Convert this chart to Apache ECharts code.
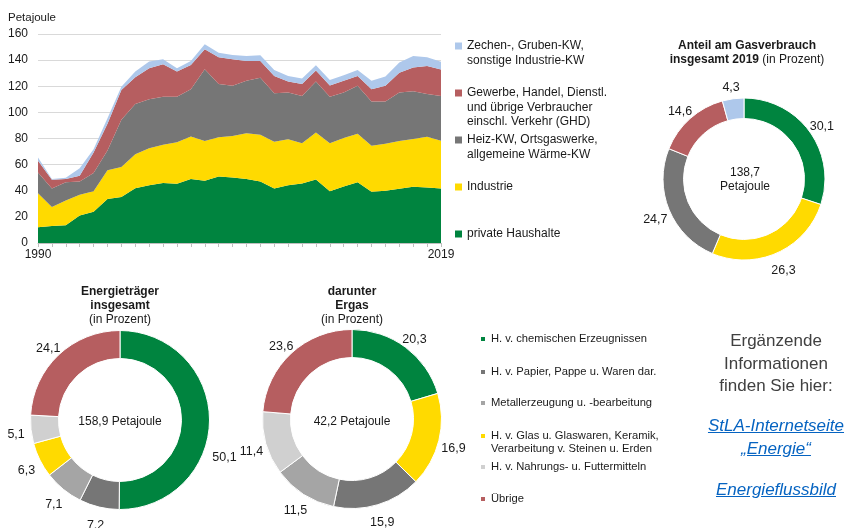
<!DOCTYPE html>
<html>
<head>
<meta charset="utf-8">
<title>Gasverbrauch</title>
<style>
html, body { margin: 0; padding: 0; background: #fff; overflow: hidden; }
#main { position: absolute; left: 0; top: 0; width: 845px; height: 528px; }
.info { position: absolute; left: 696px; width: 160px; text-align: center;
        font-family: 'Liberation Sans', Arial, sans-serif; font-size: 17px; line-height: 22.7px; color: #404040; }
.info a { color: #0563C1; font-style: italic; text-decoration: underline; }
</style>
<script src="https://cdn.jsdelivr.net/npm/echarts@6/dist/echarts.min.js"></script>
</head>
<body>
<div id="main"></div>
<div class="info" style="top:330px">Ergänzende<br>Informationen<br>finden Sie hier:</div>
<div class="info" style="top:415px"><a href="#">StLA-Internetseite</a><br><a href="#">„Energie“</a></div>
<div class="info" style="top:479px"><a href="#">Energieflussbild</a></div>
<script>
var jahre = ['1990','1991','1992','1993','1994','1995','1996','1997','1998','1999',
             '2000','2001','2002','2003','2004','2005','2006','2007','2008','2009',
             '2010','2011','2012','2013','2014','2015','2016','2017','2018','2019'];
// Petajoule je Verbrauchergruppe
var haushalte = [12, 13, 13.5, 21, 24, 33.6, 35.2, 42, 44.3, 45.9, 45.4, 48.9, 47.6, 51, 50.2, 48.9, 47.1, 41.8, 44.3, 45.6, 48.7, 39.7, 43.3, 46.6, 39.2, 40, 41.5, 43, 42.5, 41.7];
var industrie = [26, 14.5, 19, 16, 15.7, 22, 23, 26, 28.3, 29.3, 31.8, 32.6, 30.4, 30, 31.8, 35.1, 35.7, 35.7, 35.2, 30.8, 35.9, 36.7, 37, 37, 35.2, 35.9, 36.5, 36.7, 38.8, 36.5];
var heizkw = [16, 14.3, 14, 10, 13.8, 15.2, 36.1, 38.5, 37.4, 36.8, 34.8, 36.2, 55, 40.8, 38.3, 40.3, 43.8, 37.1, 35.7, 36.2, 39, 35.6, 34.9, 36.7, 33.9, 32.4, 37.2, 36.5, 32.8, 34.3];
var ghd = [9, 6.6, 2.4, 4.5, 15.8, 20.4, 22.9, 20.4, 23.8, 24.8, 19.2, 18.6, 15.3, 20.4, 20.3, 15.1, 12.8, 13.3, 8.4, 9.2, 8.4, 8.5, 9.1, 7.6, 9.4, 12, 15.2, 18.1, 21.4, 20.3];
var zechen = [2.5, 0.5, 1, 5.8, 2.5, 4.3, 2.5, 4.3, 5.1, 3.8, 2.6, 3.1, 3.8, 3.5, 3.4, 3.8, 4.3, 4.6, 4.3, 4.1, 4, 4.3, 4.1, 4.6, 6.6, 7.1, 7.7, 8.9, 6.7, 6.0];

var sektoren = ['private Haushalte', 'Industrie', 'Heiz-KW, Ortsgaswerke,\nallgemeine Wärme-KW',
                'Gewerbe, Handel, Dienstl.\nund übrige Verbraucher\neinschl. Verkehr (GHD)',
                'Zechen-, Gruben-KW,\nsonstige Industrie-KW'];
var sektorFarben = ['#00843F', '#FFDA00', '#767676', '#B65E60', '#AEC8EB'];
var anteil2019 = [30.1, 26.3, 24.7, 14.6, 4.3];

var branchen = ['H. v. chemischen Erzeugnissen', 'H. v. Papier, Pappe u. Waren dar.',
                'Metallerzeugung u. -bearbeitung',
                'H. v. Glas u. Glaswaren, Keramik,\nVerarbeitung v. Steinen u. Erden',
                'H. v. Nahrungs- u. Futtermitteln', 'Übrige'];
var branchenFarben = ['#00843F', '#767676', '#A5A5A5', '#FFDA00', '#D0D0D0', '#B65E60'];
var energietraeger = [50.1, 7.2, 7.1, 6.3, 5.1, 24.1];
var erdgas = [20.3, 15.9, 11.5, 16.9, 11.4, 23.6];
var erdgasReihenfolge = [0, 3, 1, 2, 4, 5];

var font = "'Liberation Sans', Arial, sans-serif";
var chart = echarts.init(document.getElementById('main'));

function komma(p) { return p.value.toFixed(1).replace('.', ','); }

// eine Legende je Eintrag; Leerzeilen davor, damit das Kästchen auf Höhe der ersten Zeile sitzt
function legende(name, left, y0, lh, size, fs) {
    var n = name.split('\n').length;
    var vorspann = new Array(n).join('\n');
    return {
        left: left, top: y0 - (n - 0.5) * lh, padding: 0,
        data: [name], selectedMode: false,
        icon: 'rect', itemWidth: size, itemHeight: size,
        formatter: function (nm) { return vorspann + nm; },
        textStyle: { fontFamily: font, fontSize: fs, color: '#1a1a1a', lineHeight: lh }
    };
}

var legends = [];
var sektorY = [234, 187, 140, 93, 46];
sektoren.forEach(function (s, i) { legends.push(legende(s, 455, sektorY[i], 14.2, 7, 12)); });
var branchenY = [339, 372, 403, 436, 467, 499];
branchen.forEach(function (b, i) { legends.push(legende(b, 479, branchenY[i], 12.5, 6, 11.2)); });

var stapel = [haushalte, industrie, heizkw, ghd, zechen];
var series = stapel.map(function (d, i) {
    return {
        name: sektoren[i], type: 'line', stack: 'gesamt', data: d,
        showSymbol: false, symbol: 'none',
        lineStyle: { width: 0 },
        areaStyle: { color: sektorFarben[i], opacity: 1 },
        itemStyle: { color: sektorFarben[i] }
    };
});

// Beschriftung mittig auf der (unsichtbaren) Führungslinie
function ring(center, radius, data, versatz) {
    return {
        type: 'pie', center: center, radius: radius, startAngle: 90, clockwise: true,
        avoidLabelOverlap: false, silent: true,
        itemStyle: { borderColor: '#fff', borderWidth: 1 },
        label: { show: true, position: 'outside', formatter: komma,
                 fontFamily: font, fontSize: 12.5, color: '#1a1a1a' },
        labelLine: { show: true, length: 15, length2: 0, lineStyle: { opacity: 0 } },
        labelLayout: function (p) {
            var pts = p.labelLinePoints;
            if (!pts) return {};
            var e = pts[1];
            var dy = (versatz && versatz[p.dataIndex]) || 4;
            return { x: e[0], y: e[1] + dy, align: 'center', verticalAlign: 'middle' };
        },
        data: data
    };
}

series.push(ring([744, 179], [60.5, 81], sektoren.map(function (s, i) {
    return { name: s, value: anteil2019[i], itemStyle: { color: sektorFarben[i] } };
})));
// Beschriftung des großen Segments sitzt im Original tiefer
series.push(ring([120, 420], [61.5, 89.5], branchen.map(function (b, i) {
    return { name: b, value: energietraeger[i], itemStyle: { color: branchenFarben[i] } };
}), [37]));
series.push(ring([352, 419], [61.5, 89.5], erdgasReihenfolge.map(function (k) {
    return { name: branchen[k], value: erdgas[k], itemStyle: { color: branchenFarben[k] } };
})));

function text(x, y, t, extra) {
    var style = { x: x, y: y, text: t, fill: '#1a1a1a', font: '12px ' + font,
                  textAlign: 'center', textVerticalAlign: 'middle', lineHeight: 13.5 };
    for (var k in extra) style[k] = extra[k];
    return { type: 'text', silent: true, style: style };
}
var titelRich = { b: { fontWeight: 'bold', fontFamily: font, fontSize: 12, lineHeight: 14 },
                  n: { fontFamily: font, fontSize: 12, lineHeight: 14 } };

var option = {
    animation: false,
    backgroundColor: '#fff',
    legend: legends,
    grid: { left: 38, top: 34, width: 403, height: 209 },
    xAxis: {
        type: 'category', data: jahre, boundaryGap: false,
        axisLine: { lineStyle: { color: '#BFBFBF' } },
        axisTick: { show: true, interval: 0, length: 4, lineStyle: { color: '#BFBFBF' } },
        axisLabel: { interval: function (i) { return i === 0 || i === jahre.length - 1; },
                     fontFamily: font, fontSize: 12, color: '#1a1a1a', margin: 6 }
    },
    yAxis: {
        type: 'value', min: 0, max: 160, interval: 20,
        axisLine: { show: false }, axisTick: { show: false },
        splitLine: { lineStyle: { color: '#D9D9D9' } },
        axisLabel: { fontFamily: font, fontSize: 12, color: '#1a1a1a', margin: 10 }
    },
    series: series,
    graphic: [
        text(8, 18, 'Petajoule', { textAlign: 'left', font: '11.5px ' + font }),
        text(747, 53, '{b|Anteil am Gasverbrauch}\n{b|insgesamt 2019} {n|(in Prozent)}', { rich: titelRich }),
        text(120, 306, '{b|Energieträger}\n{b|insgesamt}\n{n|(in Prozent)}', { rich: titelRich }),
        text(352, 306, '{b|darunter}\n{b|Ergas}\n{n|(in Prozent)}', { rich: titelRich }),
        text(745, 180, '138,7\nPetajoule', { lineHeight: 14 }),
        text(120, 422, '158,9 Petajoule'),
        text(352, 422, '42,2 Petajoule')
    ]
};
chart.setOption(option);
</script>
</body>
</html>
